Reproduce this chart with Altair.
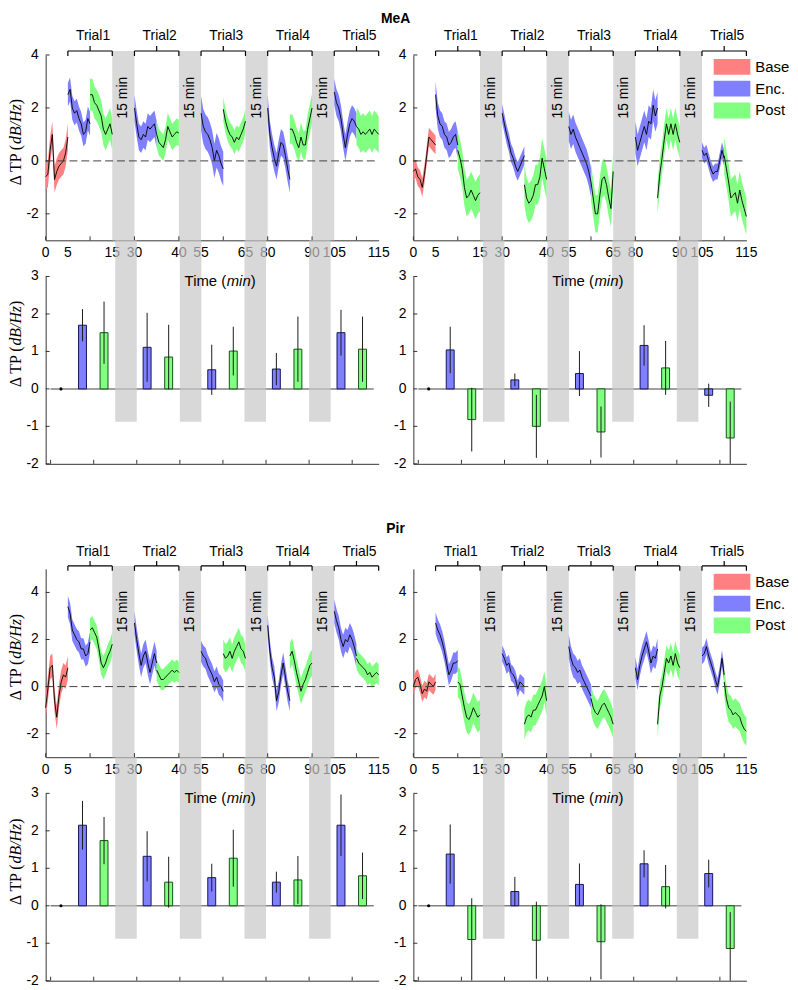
import altair as alt
import pandas as pd

SANS = "Liberation Sans"
SERIF = "Liberation Serif"

# ---------------- data ----------------
PHASES = ["Base", "Enc.", "Post"]
PHASE_COLORS = ["#ff8080", "#8080ff", "#80ff80"]
BAR_STROKES = ["#14145e", "#145214"]
SEG_START = [0, 5, 10, 20, 25, 35, 40, 50, 55, 65, 70]
SEG_PHASE = ["Base", "Enc.", "Post", "Enc.", "Post", "Enc.", "Post", "Enc.", "Post", "Enc.", "Post"]
STEP = 0.5
GAP_START = [15, 30, 45, 60]
GAP_LEN = 5
GAP_TEXT = "15 min"
TRIAL_START = [5, 20, 35, 50, 65]
TRIAL_LEN = 10
TRIAL_NAMES = ["Trial1", "Trial2", "Trial3", "Trial4", "Trial5"]
TIME_TICK_POS = [0, 5, 15, 20, 30, 35, 45, 50, 60, 65, 75]
TIME_TICK_LABELS = ["0", "5", "15", "30", "40", "55", "65", "80", "90", "105", "115"]
MINOR_TICKS = [0, 10, 20, 30, 40, 50, 60, 70]
TOP_Y_TICKS = [-2, 0, 2, 4]
BAR_Y_TICKS = [-2, -1, 0, 1, 2, 3]
BAR_OFFSET = 2.4
BASE_BAR = 0.0
BAND_BOTTOM = -0.88

# mean traces, one list per segment (Base, T1 Enc, T1 Post, ... T5 Post)
MEA_L_MEAN = [
    [-0.6, -0.5, 0.4, 1.0, -0.7, -0.4, -0.2, -0.1, 0.0, 0.3, 0.9],
    [2.5, 2.7, 2.0, 1.8, 1.9, 1.6, 1.4, 1.0, 1.1, 1.6, 1.4],
    [2.5, 2.5, 2.2, 2.1, 1.9, 1.7, 1.2, 1.0, 1.2, 1.4, 1.0],
    [2.0, 1.4, 0.9, 0.8, 1.0, 0.9, 1.3, 1.2, 1.3, 1.4, 1.0],
    [1.0, 0.7, 0.6, 0.5, 0.8, 1.3, 1.1, 0.9, 1.0, 1.1, 1.05],
    [1.8, 1.3, 1.1, 1.0, 0.8, 0.5, 0.0, 0.4, 0.2, -0.1, -0.3],
    [1.95, 1.5, 1.2, 1.0, 0.9, 0.7, 0.9, 0.8, 1.0, 1.2, 1.5],
    [2.0, 1.0, 0.5, 0.1, -0.2, 0.3, 0.7, 0.6, 0.2, -0.3, -0.7],
    [1.2, 1.2, 1.0, 0.7, 0.5, 0.9, 0.6, 0.6, 1.2, 1.6, 2.0],
    [2.6, 2.2, 2.0, 1.6, 1.0, 0.5, 1.0, 1.4, 1.6, 1.5, 1.3],
    [1.3, 1.2, 1.0, 1.1, 1.0, 1.1, 1.2, 1.0, 1.2, 1.1, 1.0],
]
MEA_L_SEM = [0.5, 0.45, 0.6, 0.5, 0.5, 0.65, 0.45, 0.5, 0.55, 0.5, 0.7]

MEA_R_MEAN = [
    [-0.4, -0.3, -0.6, -0.7, -1.0, -0.5, 0.2, 0.9, 0.8, 0.7, 0.6],
    [2.5, 1.7, 1.4, 1.3, 1.0, 0.9, 0.6, 0.7, 0.9, 1.0, 0.6],
    [0.4, 0.1, -0.3, -1.0, -1.4, -1.3, -1.1, -1.3, -1.5, -1.3, -1.2],
    [1.8, 1.4, 1.0, 0.7, 0.3, 0.1, -0.2, -0.4, -0.2, 0.0, 0.2],
    [-0.9, -1.4, -1.6, -1.5, -1.3, -0.9, -0.9, -0.6, 0.1, -0.3, -0.7],
    [1.3, 1.0, 1.2, 0.9, 0.7, 0.5, 0.3, 0.1, -0.1, -0.4, -0.8],
    [-0.8, -1.4, -2.0, -2.0, -1.3, -0.7, -0.6, -0.9, -1.4, -1.8, -0.4],
    [0.9, 0.4, 0.7, 1.0, 1.3, 1.0, 1.5, 1.4, 2.1, 1.7, 2.0],
    [-1.4, -0.5, 0.1, 0.8, 1.4, 1.0, 1.4, 1.0, 1.4, 1.0, 0.7],
    [0.4, 0.2, 0.3, 0.0, -0.3, -0.5, -0.4, -0.4, 0.0, 0.4, 0.1],
    [0.2, -0.3, -0.8, -1.4, -1.3, -1.2, -1.6, -1.1, -1.5, -1.8, -2.1],
]
MEA_R_SEM = [0.35, 0.5, 0.7, 0.35, 0.75, 0.55, 0.7, 0.6, 0.6, 0.3, 0.7]

PIR_L_MEAN = [
    [-0.9, -0.1, 0.8, 0.9, -0.6, -1.3, -0.4, 0.2, 0.5, 0.4, 0.8],
    [3.4, 3.1, 2.4, 2.2, 2.0, 1.9, 1.6, 1.6, 1.3, 1.4, 1.9],
    [2.4, 2.5, 2.3, 2.1, 1.6, 1.0, 0.8, 1.0, 1.3, 1.5, 1.8],
    [2.7, 2.0, 1.4, 0.9, 1.3, 1.5, 1.0, 0.6, 1.0, 1.4, 1.0],
    [0.7, 0.5, 0.3, 0.3, 0.4, 0.5, 0.6, 0.7, 0.6, 0.7, 0.6],
    [1.5, 1.3, 1.2, 0.9, 0.7, 0.5, 0.2, 0.4, 0.1, 0.0, -0.2],
    [1.4, 1.2, 1.3, 1.5, 1.2, 1.5, 1.7, 1.9, 1.6, 1.5, 1.2],
    [2.6, 1.5, 0.8, 0.4, -0.6, -0.2, 0.5, 1.0, 0.4, -0.2, -0.6],
    [1.3, 1.5, 1.1, 0.6, 0.2, -0.2, 0.1, 0.3, 0.6, 0.9, 1.0],
    [3.2, 2.8, 2.5, 2.0, 1.7, 2.0, 1.9, 2.2, 2.0, 1.7, 1.3],
    [1.2, 1.0, 0.9, 0.8, 0.7, 0.5, 0.6, 0.4, 0.5, 0.6, 0.5],
]
PIR_L_SEM = [0.5, 0.45, 0.5, 0.5, 0.45, 0.45, 0.6, 0.45, 0.55, 0.5, 0.45]

PIR_R_MEAN = [
    [0.0, 0.3, 0.4, 0.1, -0.3, -0.1, -0.2, 0.2, 0.1, 0.0, 0.2],
    [2.7, 2.4, 2.2, 1.9, 1.5, 1.0, 0.5, 0.7, 1.0, 1.0, 1.1],
    [0.2, 0.1, -0.4, -0.9, -1.3, -1.4, -1.2, -0.9, -1.1, -1.3, -1.2],
    [1.4, 1.2, 0.9, 1.0, 0.6, 0.5, 0.3, -0.1, 0.2, 0.1, 0.0],
    [-1.6, -1.3, -1.2, -1.3, -1.0, -1.0, -0.8, -0.6, -0.4, 0.0, -0.6],
    [1.7, 1.2, 0.9, 0.8, 0.6, 0.7, 0.4, 0.2, 0.0, -0.2, -0.4],
    [-0.5, -0.9, -1.1, -1.2, -1.0, -0.8, -0.7, -0.9, -1.1, -1.3, -1.6],
    [0.8, 0.3, 0.9, 1.3, 1.6, 1.9, 1.5, 1.0, 1.3, 1.2, 1.6],
    [-1.6, -0.4, 0.0, 0.6, 1.2, 1.0, 1.3, 0.9, 1.4, 1.0, 0.8],
    [1.3, 1.4, 1.7, 1.3, 1.0, 0.7, 0.3, 0.0, 0.5, 1.2, 0.5],
    [0.2, -0.5, -0.9, -1.0, -1.2, -1.1, -1.2, -1.3, -1.6, -1.8, -1.9],
]
PIR_R_SEM = [0.35, 0.45, 0.65, 0.35, 0.65, 0.5, 0.6, 0.45, 0.55, 0.35, 0.6]

# bar summaries (T1 Enc, T1 Post, ..., T5 Post)
MEA_L_BAR = [1.70, 1.50, 1.11, 0.85, 0.51, 1.01, 0.53, 1.06, 1.50, 1.06]
MEA_L_ERR = [0.43, 0.83, 0.92, 0.86, 0.67, 0.65, 0.43, 0.87, 0.61, 0.87]
MEA_R_BAR = [1.04, -0.82, 0.24, -1.00, 0.41, -1.15, 1.16, 0.56, -0.17, -1.31]
MEA_R_ERR = [0.62, 0.85, 0.17, 0.84, 0.60, 0.68, 0.54, 0.72, 0.31, 0.97]
PIR_L_BAR = [2.15, 1.74, 1.32, 0.63, 0.75, 1.27, 0.63, 0.69, 2.15, 0.80]
PIR_L_ERR = [0.65, 0.63, 0.67, 0.68, 0.37, 0.76, 0.28, 0.64, 0.82, 0.62]
PIR_R_BAR = [1.38, -0.90, 0.38, -0.92, 0.57, -0.96, 1.12, 0.51, 0.86, -1.14]
PIR_R_ERR = [0.79, 1.10, 0.39, 1.03, 0.56, 1.00, 0.36, 0.58, 0.37, 0.97]

# ---------------- helpers ----------------
W = 336
ROW_GAP = 36.5
ONE = pd.DataFrame({"k": [0]})
X_SCALE = alt.Scale(domain=[0, 75], nice=False, zero=False)
AX_COLOR = "#333333"


def xenc(field):
    return alt.X(field, type="quantitative", scale=X_SCALE,
                 axis=alt.Axis(labels=False, ticks=False, grid=False, title=None,
                               domain=True, domainColor=AX_COLOR, domainWidth=1))


def yenc(field, dom):
    return alt.Y(field, type="quantitative", scale=alt.Scale(domain=dom, nice=False, zero=False),
                 axis=alt.Axis(labels=False, grid=False, ticks=False, title=None,
                               domainColor=AX_COLOR, domainWidth=1))


def ytitle(cy):
    parts = [("Δ TP (", "normal", -43.5), ("dB/Hz", "italic", -1.7), (")", "normal", 38.3)]
    out = []
    for txt, style, dx in parts:
        out.append(alt.Chart(ONE).mark_text(text=txt, font=SERIF, fontSize=16, fontStyle=style,
                                            angle=270, align="left", baseline="middle", dx=dx,
                                            color="black")
                   .encode(x=alt.value(-30), y=alt.value(cy)))
    return out


def axis_marks(dom, height, yvals):
    ydf = pd.DataFrame({"v": yvals, "t": [str(v).replace("-", "\u2212") if False else str(v) for v in yvals]})
    yt = alt.Chart(ydf).mark_rule(color=AX_COLOR, strokeWidth=1).encode(
        x=alt.value(0), x2=alt.value(4), y=yenc("v", dom))
    yl = alt.Chart(ydf).mark_text(font=SANS, fontSize=14, align="right", baseline="middle",
                                  color="black").encode(
        x=alt.value(-7), y=yenc("v", dom), text="t:N")
    xt = alt.Chart(pd.DataFrame({"v": MINOR_TICKS})).mark_rule(color=AX_COLOR, strokeWidth=1).encode(
        x=xenc("v"), y=alt.value(height), y2=alt.value(height - 4))
    return [yt, yl, xt]


def top_panel(means, sems, ydom, height, brk_y, lbl_y, title_y=None,
              section=None, section_y=-36, legend_y0=None):
    rows = []
    for i, (start, phase) in enumerate(zip(SEG_START, SEG_PHASE)):
        for j, m in enumerate(means[i]):
            rows.append({"x": start + j * STEP, "mean": m, "lo": m - sems[i], "hi": m + sems[i],
                         "seg": i, "phase": phase})
    df = pd.DataFrame(rows)
    ymin, ymax = ydom
    per_px = (ymax - ymin) / height
    gaps = pd.DataFrame({"x0": GAP_START, "x1": [g + GAP_LEN for g in GAP_START],
                         "xm": [g + GAP_LEN / 2 for g in GAP_START], "t": [GAP_TEXT] * len(GAP_START)})
    trials = pd.DataFrame({"x0": TRIAL_START, "x1": [t + TRIAL_LEN for t in TRIAL_START],
                           "xm": [t + TRIAL_LEN / 2 for t in TRIAL_START], "name": TRIAL_NAMES})

    layers = []
    layers.append(alt.Chart(gaps).mark_rect(color="#d9d9d9").encode(
        x=xenc("x0"), x2="x1:Q", y=yenc("lo", ydom).bandPosition(0) if False else alt.datum(ymin),
        y2=alt.datum(ymax - brk_y * per_px)))
    layers.append(alt.Chart(df).mark_area(opacity=1).encode(
        x=xenc("x"), y=yenc("lo", ydom), y2="hi:Q",
        color=alt.Color("phase:N", scale=alt.Scale(domain=PHASES, range=PHASE_COLORS), legend=None),
        detail="seg:N"))
    layers.append(alt.Chart(df).mark_line(color="black", strokeWidth=0.9).encode(
        x=xenc("x"), y=yenc("mean", ydom), detail="seg:N"))
    layers.append(alt.Chart(ONE).mark_rule(color="#404040", strokeDash=[8, 4], strokeWidth=1).encode(
        x=alt.datum(0), x2=alt.datum(75), y=alt.datum(0)))
    layers += axis_marks(ydom, height, TOP_Y_TICKS)
    layers.append(alt.Chart(pd.DataFrame({"v": TIME_TICK_POS, "t": TIME_TICK_LABELS}))
                  .mark_text(fontSize=14, font=SANS, baseline="middle", color="black")
                  .encode(x=xenc("v"), y=alt.value(height + 13), text="t:N"))
    layers.append(alt.Chart(gaps).mark_text(angle=270, fontSize=14, font=SANS, baseline="middle",
                                            align="center", color="black")
                  .encode(x=xenc("xm"), y=alt.value(43), text="t:N"))
    # trial brackets
    layers.append(alt.Chart(trials).mark_rule(color="black", strokeWidth=1.2).encode(
        x=xenc("x0"), x2="x1:Q", y=alt.value(brk_y)))
    layers.append(alt.Chart(trials).mark_rule(color="black", strokeWidth=1.2).encode(
        x=xenc("x0"), y=alt.value(brk_y), y2=alt.value(brk_y + 5)))
    layers.append(alt.Chart(trials).mark_rule(color="black", strokeWidth=1.2).encode(
        x=xenc("x1"), y=alt.value(brk_y), y2=alt.value(brk_y + 5)))
    layers.append(alt.Chart(trials).mark_rule(color="black", strokeWidth=1.2).encode(
        x=xenc("xm"), y=alt.value(brk_y), y2=alt.value(brk_y - 5)))
    layers.append(alt.Chart(trials).mark_text(fontSize=14, font=SANS, baseline="middle", dx=3,
                                              color="black")
                  .encode(x=xenc("xm"), y=alt.value(lbl_y), text="name:N"))
    if title_y is not None:
        layers += ytitle(title_y)
    if section is not None:
        layers.append(alt.Chart(ONE).mark_text(text=section, font=SANS, fontSize=14, fontWeight="bold",
                                               baseline="middle", align="center", color="black")
                      .encode(x=alt.value(353), y=alt.value(section_y)))
    if legend_y0 is not None:
        for i, (lab, col) in enumerate(zip(PHASES, PHASE_COLORS)):
            y0 = legend_y0 + 22 * i
            layers.append(alt.Chart(ONE).mark_rect(color=col).encode(
                x=alt.value(303), x2=alt.value(340), y=alt.value(y0), y2=alt.value(y0 + 16)))
            layers.append(alt.Chart(ONE).mark_text(text=lab, font=SANS, fontSize=15, align="left",
                                                   baseline="middle", color="black")
                          .encode(x=alt.value(345), y=alt.value(y0 + 8)))
    return alt.layer(*layers).properties(width=W, height=height)


def bar_panel(vals, errs, height, top_gap, title_y=None):
    ydom = [-2, 3]
    per_px = (ydom[1] - ydom[0]) / height
    bx = [SEG_START[i] + BAR_OFFSET for i in range(1, len(SEG_START))]
    df = pd.DataFrame({"x": bx, "v": vals, "lo": [v - e for v, e in zip(vals, errs)],
                       "hi": [v + e for v, e in zip(vals, errs)], "phase": SEG_PHASE[1:]})
    base = pd.DataFrame({"x": [SEG_START[0] + BAR_OFFSET], "v": [BASE_BAR]})
    gaps = pd.DataFrame({"x0": GAP_START, "x1": [g + GAP_LEN for g in GAP_START]})
    layers = []
    layers.append(alt.Chart(ONE).mark_rule(color="#808080", strokeWidth=1.5).encode(
        x=alt.datum(0), x2=alt.datum(75), y=alt.datum(0)))
    layers.append(alt.Chart(df).mark_bar(size=8, strokeWidth=1).encode(
        x=xenc("x"), y=yenc("v", ydom),
        color=alt.Color("phase:N", scale=alt.Scale(domain=PHASES, range=PHASE_COLORS), legend=None),
        stroke=alt.Stroke("phase:N", scale=alt.Scale(domain=PHASES[1:], range=BAR_STROKES), legend=None)))
    layers.append(alt.Chart(df).mark_rule(color="#1a1a1a", strokeWidth=1, clip=True).encode(
        x=xenc("x"), y=yenc("lo", ydom), y2="hi:Q"))
    layers.append(alt.Chart(base).mark_point(filled=True, size=10, color="black", opacity=1).encode(
        x=xenc("x"), y=yenc("v", ydom)))
    layers.append(alt.Chart(gaps).mark_rect(color="#c8c8c8", opacity=0.7).encode(
        x=xenc("x0"), x2="x1:Q", y=alt.datum(BAND_BOTTOM), y2=alt.datum(ydom[1] + top_gap * per_px)))
    layers += axis_marks(ydom, height, BAR_Y_TICKS)
    for txt, style, dx in [("Time (", "normal", -35.8), ("min", "italic", 6.7), (")", "normal", 30.9)]:
        layers.append(alt.Chart(ONE).mark_text(text=txt, font=SANS, fontSize=15, fontStyle=style,
                                               align="left", baseline="middle", dx=dx, color="black")
                      .encode(x=alt.value(176), y=alt.value(5)))
    if title_y is not None:
        layers += ytitle(title_y)
    return alt.layer(*layers).properties(width=W, height=height)


def spacer(h):
    return alt.Chart(ONE).mark_point(opacity=0).encode(
        x=alt.value(0), y=alt.value(0)).properties(width=W, height=h)


mea_lt = top_panel(MEA_L_MEAN, MEA_L_SEM, [-3, 4], 187, -4, -19, title_y=88,
                   section="MeA", section_y=-36)
mea_rt = top_panel(MEA_R_MEAN, MEA_R_SEM, [-3, 4], 187, -4, -19, legend_y0=4)
mea_lb = bar_panel(MEA_L_BAR, MEA_L_ERR, 189, ROW_GAP, title_y=68)
mea_rb = bar_panel(MEA_R_BAR, MEA_R_ERR, 189, ROW_GAP)

pir_lt = top_panel(PIR_L_MEAN, PIR_L_SEM, [-3, 5], 190, -3, -17, title_y=89,
                   section="Pir", section_y=-40)
pir_rt = top_panel(PIR_R_MEAN, PIR_R_SEM, [-3, 5], 190, -3, -17, legend_y0=5)
pir_lb = bar_panel(PIR_L_BAR, PIR_L_ERR, 189, ROW_GAP, title_y=69)
pir_rb = bar_panel(PIR_R_BAR, PIR_R_ERR, 189, ROW_GAP)

chart = (alt.concat(mea_lt, mea_rt, mea_lb, mea_rb, spacer(32.5), spacer(32.5),
                    pir_lt, pir_rt, pir_lb, pir_rb,
                    columns=2, spacing={"row": ROW_GAP, "column": 35}, bounds="flush")
         .properties(padding=0, background="white")
         .configure_view(stroke=None)
         .configure_axis(grid=False))

chart.save("out.html", embed_options={"renderer": "svg", "actions": False})
